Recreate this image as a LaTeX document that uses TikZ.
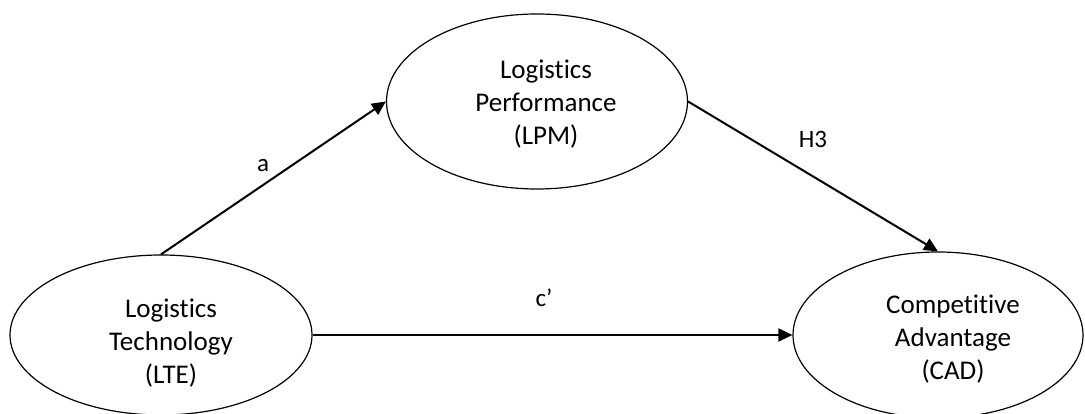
\documentclass[tikz,border=0pt]{standalone}
\usepackage{fontspec}
\setmainfont[Ligatures=NoCommon]{Carlito}
\usetikzlibrary{shapes.geometric,arrows.meta}

\tikzset{
  construct/.style={draw=black, line width=1.2pt, ellipse, inner sep=0pt},
  ctext/.style={align=center, font=\fontsize{27}{33}\selectfont, inner sep=0pt},
  path/.style={line width=2pt, -{Triangle[length=14pt,width=13pt]}},
  plabel/.style={font=\fontsize{25}{30}\selectfont, inner sep=0pt}
}

\begin{document}
\begin{tikzpicture}[x=1pt, y=-1pt]
  \useasboundingbox (0,0) rectangle (1085,414);

  % latent constructs
  \node[construct, minimum width=302pt, minimum height=160pt] (lte) at (161,335) {};
  \node[construct, minimum width=301pt, minimum height=175pt] (lpm) at (537,101.5) {};
  \node[construct, minimum width=290pt, minimum height=166pt] (cad) at (938,335) {};

  \node[ctext] (lteT) at (171,343) {Logistics\\Technology\\(LTE)};
  \node[ctext] (lpmT) at (546,104) {Logistics\\Performance\\(LPM)};
  \node[ctext] (cadT) at (953,339) {Competitive\\Advantage\\(CAD)};

  % structural paths
  \draw[path] (lte.north) -- (lpm.west);
  \draw[path] (lpm.east) -- (cad.north);
  \draw[path] (lte.east) -- (cad.west);

  % path labels
  \node[plabel] (la) at (263,166) {a};
  \node[plabel] (lh3) at (813,139) {H3};
  \node[plabel] (lc) at (544,298) {c’};
\end{tikzpicture}
\end{document}
